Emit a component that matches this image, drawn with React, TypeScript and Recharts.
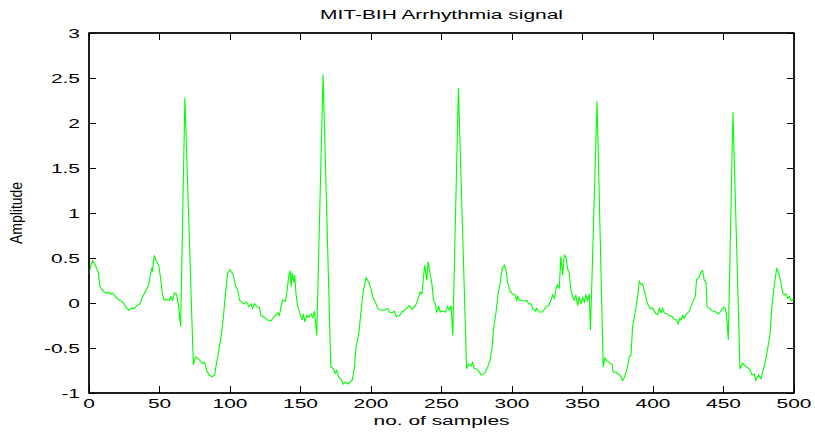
import { LineChart, Line, XAxis, YAxis, ReferenceArea } from "recharts";

// sample index (x) and amplitude (y)
const sampleIndex = [
  0, 1, 2.6, 4.5, 6.6, 7.8, 9, 11, 12.5, 14,
  15.6, 17, 18.7, 20, 21.5, 24, 26, 28, 30, 32,
  34, 36, 38, 40.4, 42.3, 43.3, 44.4, 45, 46.3, 47.5,
  49.4, 51, 52, 53.4, 55, 57, 58, 59.3, 60.5, 62,
  63.6, 65, 68, 74, 75.4, 77, 78.7, 80.6, 82, 83.5,
  85.3, 87.2, 89, 90, 91.7, 93.6, 95.3, 97, 98.3, 100,
  101.5, 102.4, 103.8, 105.5, 106.7, 108.5, 110, 111.9, 113.3, 115,
  116, 117.3, 119, 120.8, 122, 124.4, 126.8, 129, 130.3, 132,
  133.8, 135, 136.2, 137.4, 139.3, 140.5, 141.6, 142.6, 143.3, 144,
  145.2, 145.9, 146.8, 148, 149.7, 151.1, 152, 153.2, 154.4, 155.8,
  157.5, 158.7, 159.9, 161.5, 166, 171.5, 173.3, 174.7, 175.7, 177,
  178.8, 180.4, 181.8, 183.5, 185.1, 186.6, 188.2, 189.4, 191.3, 193,
  194.6, 196.5, 198.4, 200,
  201.2, 203.1, 204.8, 207.1, 209.5, 211.9, 213, 215, 216.6, 217.8,
  220.1, 222, 223.7, 225.3, 227.2, 229.1, 231.5, 233.1, 234.8, 236.2,
  237.2, 238.1, 239.5, 240.5, 241.9, 243.3, 244.3, 245.7, 246.6, 248,
  249, 250.9, 252.8, 254.4, 255.6, 256.8, 258, 262, 267.8, 269.3,
  270.8, 272, 273.3, 275, 276.9, 278, 279.7, 281.1, 282.8, 284.4,
  285.9, 286.8, 288.7, 290.1, 291.5, 293, 294.6, 295.8, 296.9, 298.5,
  300.4, 302.3, 303.3, 304, 305.2, 307.5, 309.4, 310.4, 311.8, 313.4,
  314.6, 316.5, 317.4, 319.3, 321.7, 322.9, 324.1, 326, 327.6, 328.8,
  330, 331.2, 332.3, 333.5, 334.7, 335.9, 337.1, 338.3, 339.4, 340.6,
  341.8, 343, 344.2, 345.3, 346.5, 347.7, 348.9, 350.1, 351.3, 352.4,
  353.6, 354.8, 355.6, 356.4, 360.3, 364.7, 365.9, 367.1, 369, 370.9,
  371.8, 373.7, 374.9, 376.6, 378.4, 379.6, 381.3, 383.2, 384.4, 385.5,
  387.4, 389.1, 390.3, 391.4, 392.6, 394.5, 396.2,
  397.8, 399.7, 400.9, 402.1, 403.3, 404.5, 405.6, 406.8, 408, 409.7,
  411.5, 413.4, 415.1, 416.7, 417.9, 419.1, 420, 421, 422.2, 423.4,
  425.3, 426.9, 428.1, 430, 430.9, 432.4, 434, 435.2, 436.4, 437.6,
  438.3, 439.9, 442.3, 444.6, 446.5, 448.2, 449.8, 451.3, 452.2, 453.4,
  456.7, 461.7, 463.6, 465.4, 467.1, 468.8, 470.2, 471.8, 473, 474.9,
  476.6, 477.7, 479.6, 481.3, 482.9, 484.3, 486, 487.7, 489.1, 490.7,
  491.9, 493.1, 494.3, 495.5, 496.7, 497.9, 500,
];

const amplitude = [
  0.33, 0.4, 0.47, 0.42, 0.34, 0.18, 0.15, 0.12, 0.11, 0.12,
  0.1, 0.11, 0.07, 0.05, 0.03, 0.01, -0.04, -0.08, -0.06, -0.06,
  -0.03, -0.01, 0.07, 0.14, 0.2, 0.29, 0.38, 0.36, 0.53, 0.47,
  0.42, 0.25, 0.1, 0.03, 0.04, 0.03, 0.07, 0.03, 0.11, 0.1,
  -0.04, -0.26, 2.28, -0.69, -0.6, -0.61, -0.64, -0.67, -0.66, -0.75,
  -0.8, -0.82, -0.8, -0.71, -0.56, -0.38, -0.16, 0.14, 0.33, 0.37,
  0.33, 0.31, 0.2, 0.14, 0.03, 0.01, -0.01, 0.01, -0.04, -0.01,
  -0.06, -0.01, -0.04, -0.05, -0.14, -0.16, -0.19, -0.2, -0.17, -0.14,
  -0.11, -0.14, -0.04, 0.03, 0.02, 0.14, 0.29, 0.36, 0.18, 0.34,
  0.23, 0.31, 0.1, -0.04, -0.12, -0.19, -0.12, -0.21, -0.14, -0.16,
  -0.12, -0.16, -0.09, -0.36, 2.54, -0.71, -0.73, -0.78, -0.75, -0.82,
  -0.85, -0.9, -0.88, -0.9, -0.88, -0.86, -0.73, -0.49, -0.34, -0.08,
  0.14, 0.28, 0.23, 0.16,
  0.07, 0.01, -0.06, -0.08, -0.08, -0.06, -0.1, -0.11, -0.09, -0.15,
  -0.14, -0.1, -0.08, -0.06, -0.03, -0.07, -0.03, 0.03, 0.12, 0.11,
  0.29, 0.42, 0.25, 0.46, 0.33, 0.2, 0.03, -0.01, -0.1, -0.04,
  -0.1, -0.09, -0.1, -0.04, -0.08, -0.03, -0.36, 2.39, -0.73, -0.68,
  -0.7, -0.66, -0.73, -0.73, -0.77, -0.8, -0.79, -0.77, -0.71, -0.64,
  -0.49, -0.3, -0.1, 0.1, 0.21, 0.38, 0.42, 0.36, 0.23, 0.14,
  0.1, 0.09, 0.03, 0.07, 0.03, 0.03, 0.02, 0.03, -0.01, -0.01,
  -0.06, -0.09, -0.06, -0.1, -0.1, -0.07, -0.04, -0.03, 0.03, 0.09,
  0.05, 0.16, 0.2, 0.16, 0.52, 0.31, 0.53, 0.51, 0.38, 0.33,
  0.14, 0.07, 0.03, 0.09, -0.03, 0.07, -0.01, 0.06, 0.01, 0.09,
  0.03, 0.1, -0.3, 0.1, 2.24, -0.71, -0.61, -0.64, -0.66, -0.68,
  -0.77, -0.77, -0.79, -0.8, -0.86, -0.83, -0.75, -0.6, -0.58, -0.27,
  -0.1, 0.07, 0.24, 0.21, 0.21, 0.09, -0.01,
  -0.06, -0.06, -0.09, -0.12, -0.13, -0.06, -0.11, -0.06, -0.11, -0.12,
  -0.14, -0.15, -0.18, -0.19, -0.23, -0.17, -0.19, -0.14, -0.17, -0.13,
  -0.1, -0.04, 0.01, 0.07, 0.26, 0.28, 0.34, 0.36, 0.25, 0.23,
  -0.04, -0.06, -0.09, -0.1, -0.12, -0.09, -0.05, -0.06, -0.14, -0.41,
  2.12, -0.73, -0.67, -0.7, -0.72, -0.74, -0.8, -0.79, -0.86, -0.8,
  -0.84, -0.77, -0.66, -0.51, -0.36, -0.04, 0.2, 0.38, 0.34, 0.23,
  0.12, 0.09, 0.1, 0.05, 0.07, 0.03, 0.04,
];

const xTicks = [0, 50, 100, 150, 200, 250, 300, 350, 400, 450, 500];
const yTicks = [-1, -0.5, 0, 0.5, 1, 1.5, 2, 2.5, 3];

const data = sampleIndex.map((s, i) => ({ sample: s, amp: amplitude[i] }));

const FONT = "Arial, 'Liberation Sans', Helvetica, sans-serif";
const STRETCH = 1.55;
const TICK_LEN = 7;

// MATLAB export is stretched sideways, so text is scaled in x
function WideText({ x, y, anchor = "middle", size = 13.5, children }: any) {
  return (
    <text
      transform={`translate(${x} ${y}) scale(${STRETCH} 1)`}
      textAnchor={anchor}
      fontSize={size}
      fontFamily={FONT}
      fill="#000"
    >
      {children}
    </text>
  );
}

function TickMark({ x1, y1, x2, y2 }: any) {
  return (
    <line
      x1={x1}
      y1={y1}
      x2={x2}
      y2={y2}
      stroke="#000"
      strokeWidth={1}
      shapeRendering="crispEdges"
    />
  );
}

function BottomTick({ x, y, payload }: any) {
  return (
    <g>
      <TickMark x1={x} x2={x} y1={y} y2={y - TICK_LEN} />
      <WideText x={x} y={y + 15}>{payload.value}</WideText>
    </g>
  );
}

function TopTick({ x, y }: any) {
  return <TickMark x1={x} x2={x} y1={y} y2={y + TICK_LEN} />;
}

function LeftTick({ x, y, payload }: any) {
  return (
    <g>
      <TickMark x1={x} x2={x + TICK_LEN} y1={y} y2={y} />
      <WideText x={x - 9} y={y + 5} anchor="end">{payload.value}</WideText>
    </g>
  );
}

function RightTick({ x, y }: any) {
  return <TickMark x1={x} x2={x - TICK_LEN} y1={y} y2={y} />;
}

const axisLine = { stroke: "#000", strokeWidth: 1 };

export default function App() {
  return (
    <div style={{ position: "absolute", left: 0, top: 0, background: "#fff" }}>
      <LineChart
        width={815}
        height={432}
        data={data}
        margin={{ top: 32, right: 20, bottom: 8, left: 29 }}
      >
        <XAxis
          xAxisId="bottom"
          dataKey="sample"
          type="number"
          domain={[0, 500]}
          ticks={xTicks}
          interval={0}
          height={31}
          tickSize={0}
          tickMargin={0}
          tickLine={false}
          axisLine={axisLine}
          tick={<BottomTick />}
        />
        <XAxis
          xAxisId="top"
          orientation="top"
          dataKey="sample"
          type="number"
          domain={[0, 500]}
          ticks={xTicks}
          interval={0}
          height={1}
          tickSize={0}
          tickMargin={0}
          tickLine={false}
          axisLine={axisLine}
          tick={<TopTick />}
        />
        <YAxis
          yAxisId="left"
          type="number"
          domain={[-1, 3]}
          ticks={yTicks}
          interval={0}
          width={60}
          tickSize={0}
          tickMargin={0}
          tickLine={false}
          axisLine={axisLine}
          tick={<LeftTick />}
        />
        <YAxis
          yAxisId="right"
          orientation="right"
          type="number"
          domain={[-1, 3]}
          ticks={yTicks}
          interval={0}
          width={1}
          tickSize={0}
          tickMargin={0}
          tickLine={false}
          axisLine={axisLine}
          tick={<RightTick />}
        />
        {/* plot box */}
        <ReferenceArea
          xAxisId="bottom"
          yAxisId="left"
          x1={0}
          x2={500}
          y1={-1}
          y2={3}
          fill="none"
          fillOpacity={0}
          stroke="#000"
          strokeWidth={1.5}
          ifOverflow="visible"
        />
        {/* invisible copy so the top/right frame axes get drawn */}
        <Line
          xAxisId="top"
          yAxisId="right"
          type="linear"
          dataKey="amp"
          stroke="none"
          dot={false}
          activeDot={false}
          isAnimationActive={false}
        />
        <Line
          xAxisId="bottom"
          yAxisId="left"
          type="linear"
          dataKey="amp"
          stroke="#00ff00"
          strokeWidth={1.1}
          dot={false}
          isAnimationActive={false}
        />
        <WideText x={441.5} y={19}>MIT-BIH Arrhythmia signal</WideText>
        <WideText x={441.5} y={425}>no. of samples</WideText>
        <text
          transform="translate(22 213) rotate(-90) scale(1 1.2)"
          textAnchor="middle"
          fontSize={14}
          fontFamily={FONT}
          fill="#000"
        >
          Amplitude
        </text>
      </LineChart>
    </div>
  );
}
